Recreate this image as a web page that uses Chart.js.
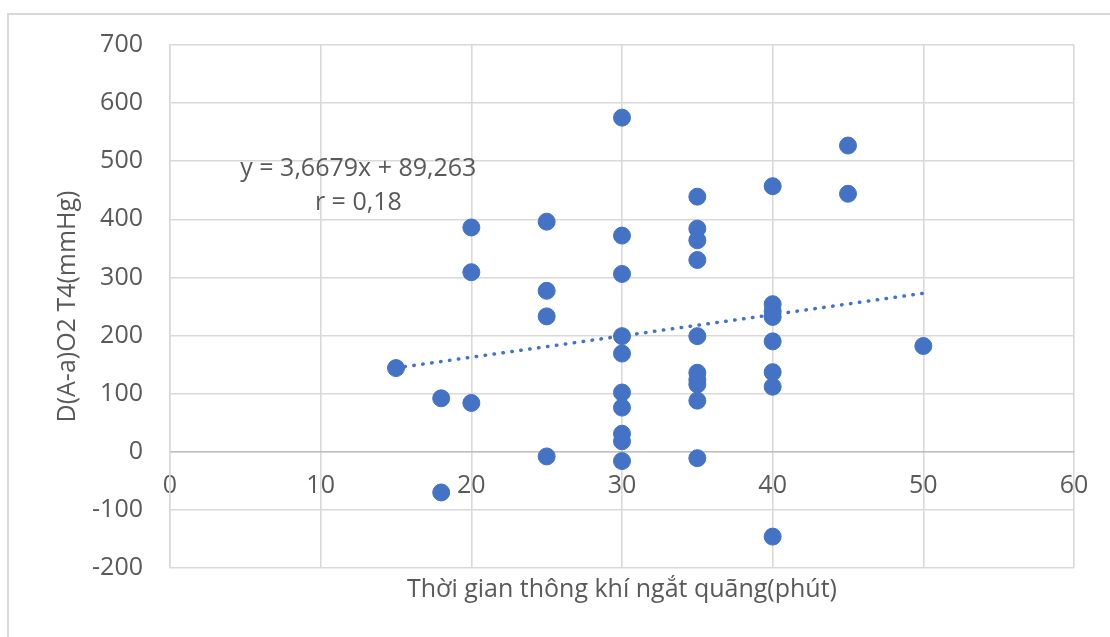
<!DOCTYPE html>
<html>
<head>
<meta charset="utf-8">
<script src="https://cdn.jsdelivr.net/npm/chart.js@4/dist/chart.umd.min.js"></script>
<style>
  body { margin: 0; background: #fff; }
  #wrap { position: relative; width: 1110px; height: 637px; overflow: hidden; }
  #frame { position: absolute; left: 7px; top: 13px; width: 1200px; height: 700px;
           border-top: 2px solid #d9d9d9; border-left: 2px solid #d9d9d9; }
  #chart { position: absolute; left: 0; top: 0; }
</style>
</head>
<body>
<div id="wrap">
  <div id="frame"></div>
  <canvas id="chart" width="1110" height="637"></canvas>
</div>
<script>
// thời gian (phút) và D(A-a)O2 T4 (mmHg)
const timeMin = [15, 18, 18, 20, 20, 20, 25, 25, 25, 25,
  30, 30, 30, 30, 30, 30, 30, 30, 30, 30,
  35, 35, 35, 35, 35, 35, 35, 35, 35, 35,
  40, 40, 40, 40, 40, 40, 40, 40,
  45, 45, 50];
const gradient = [144, 92, -70, 386, 309, 84, 396, 277, 233, -8,
  575, 372, 306, 199, 169, 102, 76, 31, 18, -16,
  439, 384, 364, 330, 199, 136, 124, 116, 88, -11,
  457, 254, 242, 232, 190, 137, 112, -146,
  527, 444, 182];

// đường xu hướng (điểm đầu, điểm cuối)
const trendX = [15, 50];
const trendY = [144.3, 272.7];

const xTicks = [0, 10, 20, 30, 40, 50, 60];
const yTicks = [-200, -100, 0, 100, 200, 300, 400, 500, 600, 700];

const equationText = ["y = 3,6679x + 89,263", "r = 0,18"];
const equationAt = [[12.5, 487], [12.5, 429]];

const points = timeMin.map((t, i) => ({ x: t, y: gradient[i] }));
const trend = trendX.map((t, i) => ({ x: t, y: trendY[i] }));

const FONT = "'Open Sans', 'Liberation Sans', sans-serif";
const GREY = "#595959";
const SIZE = 25;

const equationLabel = {
  id: "equationLabel",
  afterDatasetsDraw(chart) {
    const ctx = chart.ctx;
    ctx.save();
    ctx.font = SIZE + "px " + FONT;
    ctx.fillStyle = GREY;
    ctx.textAlign = "center";
    ctx.textBaseline = "middle";
    equationText.forEach((txt, i) => {
      ctx.fillText(txt, chart.scales.x.getPixelForValue(equationAt[i][0]),
        chart.scales.y.getPixelForValue(equationAt[i][1]));
    });
    ctx.restore();
  }
};

new Chart(document.getElementById("chart"), {
  type: "scatter",
  data: {
    datasets: [{
        data: points,
        backgroundColor: "#4472C4",
        borderColor: "#4472C4",
        pointRadius: 8.5,
        pointHoverRadius: 8.5
      },
      {
        type: "line",
        data: trend,
        borderColor: "#4472C4",
        borderWidth: 3.5,
        borderDash: [0.5, 8.5],
        borderCapStyle: "round",
        pointRadius: 0,
        fill: false
      }
    ]
  },
  options: {
    responsive: false,
    animation: false,
    devicePixelRatio: 1,
    layout: { padding: { left: 0, top: 45, right: 36, bottom: 0 } },
    plugins: { legend: { display: false }, tooltip: { enabled: false } },
    scales: {
      x: {
        type: "linear",
        position: { y: 0 },
        min: 0, max: 60,
        afterBuildTicks: s => { s.ticks = xTicks.map(v => ({ value: v })); },
        grid: { color: "#d9d9d9", lineWidth: 1.6, drawTicks: false },
        border: { color: "#bfbfbf", width: 1.6 },
        ticks: { color: GREY, font: { family: FONT, size: SIZE }, padding: 19, maxRotation: 0 }
      },
      x2: {
        type: "linear",
        position: "bottom",
        min: 0, max: 60,
        grid: { display: false },
        border: { display: false },
        ticks: { display: false },
        afterFit: s => { s.height = 69; },
        title: {
          display: true,
          text: "Thời gian thông khí ngắt quãng(phút)",
          color: GREY,
          font: { family: FONT, size: SIZE },
          padding: { top: 0, bottom: 32 }
        }
      },
      y: {
        type: "linear",
        min: -200, max: 700,
        afterBuildTicks: s => { s.ticks = yTicks.map(v => ({ value: v })); },
        afterFit: s => { s.width = 170; },
        grid: { color: "#d9d9d9", lineWidth: 1.6, drawTicks: false },
        border: { color: "#d9d9d9", width: 1.6 },
        ticks: { color: GREY, font: { family: FONT, size: SIZE }, padding: 27 },
        title: {
          display: true,
          text: "D(A-a)O2 T4(mmHg)",
          color: GREY,
          font: { family: FONT, size: SIZE },
          padding: { top: 53, bottom: 0 }
        }
      }
    }
  },
  plugins: [equationLabel]
});
</script>
</body>
</html>
